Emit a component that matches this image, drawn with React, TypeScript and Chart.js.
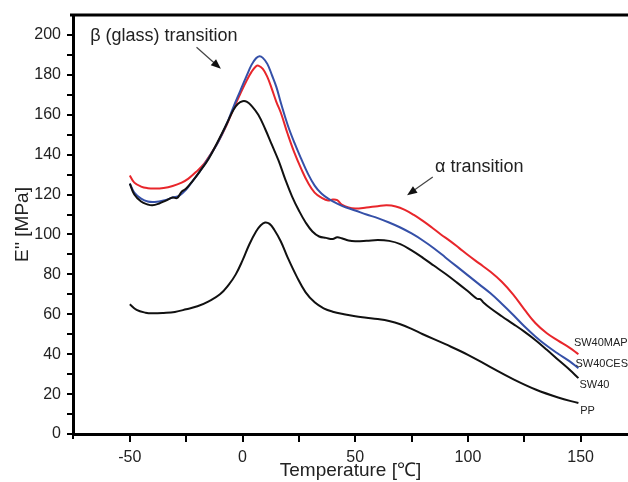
import React, { useEffect, useRef } from "react";
import { Chart, registerables } from "chart.js";

Chart.register(...registerables);

// ---- Data ----
const ppX = [-50, -47, -43, -40, -35, -30, -25, -20, -15, -10, -6, -3, 0, 3, 6, 8, 10, 12, 14, 17, 20, 24, 28, 32, 36, 40, 45, 50, 55, 60, 65, 70, 75, 80, 90, 100, 110, 120, 130, 140, 149];
const ppY = [65, 62.2, 60.8, 60.5, 60.7, 61.2, 62.5, 64, 66.5, 70, 75, 80, 87, 95, 101.5, 104.5, 106, 105.3, 102.5, 96.5, 88.5, 79, 71, 66, 63, 61.3, 60, 59, 58.3, 57.6, 56.6, 55, 52.7, 50, 45, 39.7, 33.5, 27.5, 22.3, 18.3, 15.5];

const sw40X = [-50, -48, -45, -42, -40, -37, -34, -31, -29, -27, -25, -22, -19, -15, -11, -7, -4, -2, 0, 2, 4, 7, 10, 13, 16, 19, 22, 25, 28, 31, 34, 37, 40, 42, 44, 47, 50, 55, 60, 65, 70, 75, 80, 85, 90, 95, 100, 104, 105.5, 107, 110, 115, 120, 125, 130, 135, 140, 145, 149];
const sw40Y = [125.5, 120, 116.5, 115, 114.6, 115.5, 117, 118.5, 118.3, 121.5, 123, 127, 131.5, 138, 146.5, 155.5, 162.5, 165.5, 166.8, 166.5, 164.5, 160, 153, 145, 137, 127.5, 119, 112, 106, 101.5, 99, 98.3, 97.7, 98.6, 98.1, 97, 96.6, 96.8, 97.2, 96.8, 95.2, 92, 88.3, 84.3, 80.3, 76, 71.5, 67.8, 67.6, 65.8, 63, 59, 55.2, 51.3, 47, 42.2, 37.2, 32.3, 28];

const cesaX = [-50, -48, -45, -42, -39, -35, -31, -28, -25, -22, -19, -15, -11, -7, -4, -1, 2, 4, 6, 7.5, 9, 11, 13, 15, 17, 20, 23, 26, 29, 32, 35, 38, 42, 46, 50, 55, 60, 65, 70, 75, 80, 85, 90, 95, 100, 105, 110, 115, 120, 125, 130, 135, 140, 145, 149];
const cesaY = [125.5, 121, 118, 116.5, 116.3, 117, 118.5, 119.5, 122.5, 127, 131.5, 138.5, 146, 155.5, 164, 172, 180, 185, 188.3, 189.3, 188.5, 185.5, 180, 174, 166, 155, 146, 138, 130.5, 124.5, 120.5, 118, 115.5, 113.5, 112, 110, 108.2, 106, 103.5, 100.5, 97, 93, 88.5, 84, 79.5, 75, 70.5, 65.3, 59.8, 54, 48.8, 44.2, 40.2, 36.5, 33];

const mappX = [-50, -48, -45, -42, -39, -35, -31, -27, -24, -20, -17, -14, -11, -7, -4, -1, 2, 4, 6, 7, 9, 11, 13, 15, 17, 20, 23, 26, 29, 32, 35, 38, 40, 42, 44, 47, 50, 55, 60, 64, 68, 72, 76, 80, 84, 88, 92, 96, 100, 105, 110, 115, 120, 125, 130, 135, 140, 145, 149];
const mappY = [129.6, 126, 124, 123.2, 123, 123.3, 124.3, 126, 128, 132, 135.5, 140.5, 146, 155, 163, 170.5, 177.5, 181.5, 184.3, 184.6, 183, 179, 173, 166.5, 161, 150.5, 141, 133, 126, 121, 118.5, 117, 117.5, 117.2, 115, 113.5, 113, 113.5, 114.2, 114.6, 114, 112.3, 109.8, 106.8, 103.5, 100, 96.8, 93.3, 89.7, 85.5, 81.3, 76.3, 70, 62.5, 55.5, 50.5, 46.8, 43.3, 40];

const seriesNames = ["PP", "SW40", "SW40CESA", "SW40MAPP"];
const xTickValues = [-50, 0, 50, 100, 150];
const yTickValues = [0, 20, 40, 60, 80, 100, 120, 140, 160, 180, 200];

const FONT = "'Liberation Sans', Arial, sans-serif";

const toPts = (xs: number[], ys: number[]) => xs.map((x, i) => ({ x, y: ys[i] }));

const decorPlugin = {
  id: "decor",
  afterDraw(chart: any) {
    const { ctx, chartArea, scales } = chart;
    const xs = scales.x;
    const ys = scales.y;
    ctx.save();
    // top frame line
    ctx.strokeStyle = "#000";
    ctx.lineWidth = 3;
    ctx.beginPath();
    ctx.moveTo(chartArea.left - 3, chartArea.top);
    ctx.lineTo(chartArea.right, chartArea.top);
    ctx.stroke();

    // ticks
    ctx.lineWidth = 2;
    for (let v = -50; v <= 150; v += 25) {
      const px = Math.round(xs.getPixelForValue(v));
      ctx.beginPath();
      ctx.moveTo(px, chartArea.bottom);
      ctx.lineTo(px, chartArea.bottom + 8);
      ctx.stroke();
    }
    ctx.beginPath();
    ctx.moveTo(chartArea.left, chartArea.bottom);
    ctx.lineTo(chartArea.left, chartArea.bottom + 5);
    ctx.stroke();
    for (let v = 10; v <= 200; v += 10) {
      const py = Math.round(ys.getPixelForValue(v));
      ctx.beginPath();
      ctx.moveTo(chartArea.left, py);
      ctx.lineTo(chartArea.left - 6, py);
      ctx.stroke();
    }
    ctx.beginPath();
    ctx.moveTo(chartArea.left, chartArea.bottom);
    ctx.lineTo(chartArea.left - 6, chartArea.bottom);
    ctx.stroke();

    // annotations
    ctx.fillStyle = "#222";
    ctx.textBaseline = "middle";
    ctx.textAlign = "left";
    ctx.font = `18px ${FONT}`;
    ctx.fillText("β (glass) transition", xs.getPixelForValue(-67.6), ys.getPixelForValue(199.6));
    ctx.fillText("α transition", xs.getPixelForValue(85.4), ys.getPixelForValue(133.8));

    const arrow = (x1: number, y1: number, x2: number, y2: number) => {
      const ax = xs.getPixelForValue(x1), ay = ys.getPixelForValue(y1);
      const bx = xs.getPixelForValue(x2), by = ys.getPixelForValue(y2);
      const ang = Math.atan2(by - ay, bx - ax);
      const hl = 10, hw = 4;
      ctx.strokeStyle = "#444";
      ctx.lineWidth = 1.2;
      ctx.beginPath();
      ctx.moveTo(ax, ay);
      ctx.lineTo(bx - Math.cos(ang) * hl * 0.8, by - Math.sin(ang) * hl * 0.8);
      ctx.stroke();
      ctx.fillStyle = "#111";
      ctx.beginPath();
      ctx.moveTo(bx, by);
      ctx.lineTo(bx - Math.cos(ang) * hl - Math.sin(ang) * hw, by - Math.sin(ang) * hl + Math.cos(ang) * hw);
      ctx.lineTo(bx - Math.cos(ang) * hl + Math.sin(ang) * hw, by - Math.sin(ang) * hl - Math.cos(ang) * hw);
      ctx.closePath();
      ctx.fill();
    };
    arrow(-20.4, 193.8, -9.6, 183);
    arrow(84.4, 128.8, 73, 119.7);

    // series end labels
    ctx.fillStyle = "#222";
    ctx.font = `11px ${FONT}`;
    const labelPos: [string, number, number][] = [
      [seriesNames[3], 147, 45.8],
      [seriesNames[2], 147.7, 35],
      [seriesNames[1], 149.5, 24.7],
      [seriesNames[0], 149.8, 11.7],
    ];
    labelPos.forEach(([t, x, y]) => ctx.fillText(t, xs.getPixelForValue(x), ys.getPixelForValue(y)));
    ctx.restore();
  },
};

export default function App() {
  const ref = useRef<HTMLCanvasElement>(null);
  useEffect(() => {
    if (!ref.current) return;
    const mk = (label: string, pts: any, color: string) => ({
      label,
      data: pts,
      borderColor: color,
      backgroundColor: color,
      borderWidth: 2,
      pointRadius: 0,
      tension: 0.4,
      fill: false,
    });
    const chart = new Chart(ref.current, {
      type: "line",
      data: {
        datasets: [
          mk(seriesNames[0], toPts(ppX, ppY), "#111111"),
          mk(seriesNames[1], toPts(sw40X, sw40Y), "#111111"),
          mk(seriesNames[2], toPts(cesaX, cesaY), "#3550a8"),
          mk(seriesNames[3], toPts(mappX, mappY), "#e8262b"),
        ],
      },
      options: {
        animation: false,
        responsive: false,
        devicePixelRatio: 1,
        layout: { padding: { top: 15, left: 0, right: 0, bottom: 0 } },
        plugins: { legend: { display: false }, tooltip: { enabled: false } },
        scales: {
          x: {
            type: "linear",
            min: -75.2,
            max: 171,
            afterFit: (s: any) => { s.height = 48; s.paddingLeft = 0; s.paddingRight = 0; },
            afterBuildTicks: (s: any) => { s.ticks = xTickValues.map((v) => ({ value: v })); },
            ticks: { font: { family: FONT, size: 16 }, color: "#222", padding: 14, maxRotation: 0, autoSkip: false },
            grid: { display: false, drawTicks: false },
            border: { display: true, color: "#000", width: 3 },
            title: { display: true, text: "Temperature [℃]", font: { family: FONT, size: 19 }, color: "#222", padding: { top: 0, bottom: 0 } },
          },
          y: {
            type: "linear",
            min: 0,
            max: 210,
            afterFit: (s: any) => { s.width = 73; s.paddingTop = 0; s.paddingBottom = 0; },
            afterBuildTicks: (s: any) => { s.ticks = yTickValues.map((v) => ({ value: v })); },
            ticks: { font: { family: FONT, size: 16 }, color: "#222", padding: 12, autoSkip: false },
            grid: { display: false, drawTicks: false },
            border: { display: true, color: "#000", width: 3 },
            title: { display: true, text: "E'' [MPa]", font: { family: FONT, size: 19 }, color: "#222", padding: { top: 11, bottom: 0 } },
          },
        },
      },
      plugins: [decorPlugin],
    });
    return () => chart.destroy();
  }, []);
  return (
    <div style={{ position: "absolute", left: 0, top: 0, width: 628, height: 482, background: "#fff" }}>
      <canvas ref={ref} width={628} height={482} style={{ display: "block" }} />
    </div>
  );
}
